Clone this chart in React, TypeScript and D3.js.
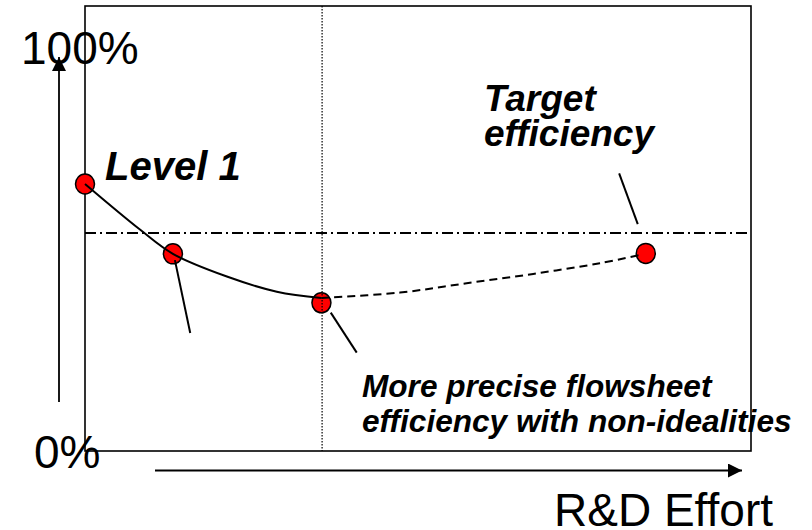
import React from "react";
import * as d3 from "d3";

// ---- data (chart units: effort 0..100, efficiency 0..100%) ----
const pointX = [0, 13.2, 35.5, 84.2];
const pointY = [60, 44.3, 33.3, 44.4];

const solidCurveX = [0, 8.3, 13.2, 21.3, 28.8, 35.5];
const solidCurveY = [60, 49.7, 44.3, 39.2, 35.8, 34.4];

const dashedCurveX = [35.5, 47.3, 57.3, 67.3, 77.3, 83.5];
const dashedCurveY = [34.4, 35.6, 37.7, 39.8, 42.2, 44.1];

const targetLevel = 49;
const milestoneX = 35.6;

const leaderX1 = [13.5, 36.9, 80.2];
const leaderY1 = [42.9, 31.1, 62.4];
const leaderX2 = [15.8, 40.8, 83.0];
const leaderY2 = [26.5, 22.1, 51.0];

const yTickLabels = ["0%", "100%"];
const xAxisTitle = "R&D Effort";
const level1Label = "Level 1";
const targetLabel = ["Target", "efficiency"];
const flowsheetLabel = ["More precise flowsheet", "efficiency with non-idealities"];

const W = 812;
const H = 530;
const box = { left: 85, right: 751, top: 6, bottom: 451 };
const FONT = "'Liberation Sans', Arial, Helvetica, sans-serif";

export default function App() {
  const x = d3.scaleLinear().domain([0, 100]).range([box.left, box.right]);
  const y = d3.scaleLinear().domain([0, 100]).range([box.bottom, box.top]);

  const line = d3
    .line<[number, number]>()
    .x((d) => x(d[0]))
    .y((d) => y(d[1]))
    .curve(d3.curveCatmullRom.alpha(0.5));

  const solidPts: [number, number][] = solidCurveX.map((v, i) => [v, solidCurveY[i]]);
  const dashedPts: [number, number][] = dashedCurveX.map((v, i) => [v, dashedCurveY[i]]);

  return (
    <svg
      width={W}
      height={H}
      style={{ position: "absolute", left: 0, top: 0, display: "block", background: "#fff" }}
      fontFamily={FONT}
    >
      <defs>
        <marker id="arrow" viewBox="0 0 10 10" refX="10" refY="5" markerWidth="15" markerHeight="14" markerUnits="userSpaceOnUse" orient="auto">
          <path d="M0,0 L10,5 L0,10 Z" fill="#000" />
        </marker>
      </defs>

      {/* axis labels */}
      <text x={21} y={63.5} fontSize={46} fill="#000">{yTickLabels[1]}</text>
      <text x={34} y={467.5} fontSize={46} fill="#000">{yTickLabels[0]}</text>
      <text x={554} y={526} fontSize={46} fill="#000">{xAxisTitle}</text>

      {/* annotation texts */}
      <text x={105} y={180} fontSize={40} fontWeight="bold" fontStyle="italic" fill="#000">{level1Label}</text>
      {targetLabel.map((t, i) => (
        <text key={t} x={484} y={110.5 + i * 35} fontSize={37} fontWeight="bold" fontStyle="italic" fill="#000">{t}</text>
      ))}
      {flowsheetLabel.map((t, i) => (
        <text key={t} x={362} y={396.5 + i * 35} fontSize={31.6} fontWeight="bold" fontStyle="italic" fill="#000">{t}</text>
      ))}

      {/* frame */}
      <rect x={box.left} y={box.top} width={box.right - box.left} height={box.bottom - box.top} fill="none" stroke="#000" strokeWidth={1.6} />

      {/* arrows */}
      <line x1={59} y1={402} x2={59} y2={57} stroke="#000" strokeWidth={1.8} markerEnd="url(#arrow)" />
      <line x1={155} y1={470.5} x2={742} y2={470.5} stroke="#000" strokeWidth={1.8} markerEnd="url(#arrow)" />

      {/* points */}
      {pointX.map((v, i) => (
        <ellipse key={i} cx={x(v)} cy={y(pointY[i])} rx={9.5} ry={10} fill="#ff0000" stroke="#000" strokeWidth={1.5} />
      ))}

      {/* reference lines */}
      <line x1={x(milestoneX)} y1={box.top} x2={x(milestoneX)} y2={box.bottom} stroke="#000" strokeWidth={1.2} strokeDasharray="1.5,1.5" />
      <line x1={box.left} y1={y(targetLevel)} x2={box.right} y2={y(targetLevel)} stroke="#000" strokeWidth={2} strokeDasharray="11,4,2,4" />

      {/* curves */}
      <path d={line(solidPts) || ""} fill="none" stroke="#000" strokeWidth={2} />
      <path d={line(dashedPts) || ""} fill="none" stroke="#000" strokeWidth={2} strokeDasharray="8,5" />

      {/* leader lines */}
      {leaderX1.map((v, i) => (
        <line key={i} x1={x(v)} y1={y(leaderY1[i])} x2={x(leaderX2[i])} y2={y(leaderY2[i])} stroke="#000" strokeWidth={2} />
      ))}
    </svg>
  );
}
